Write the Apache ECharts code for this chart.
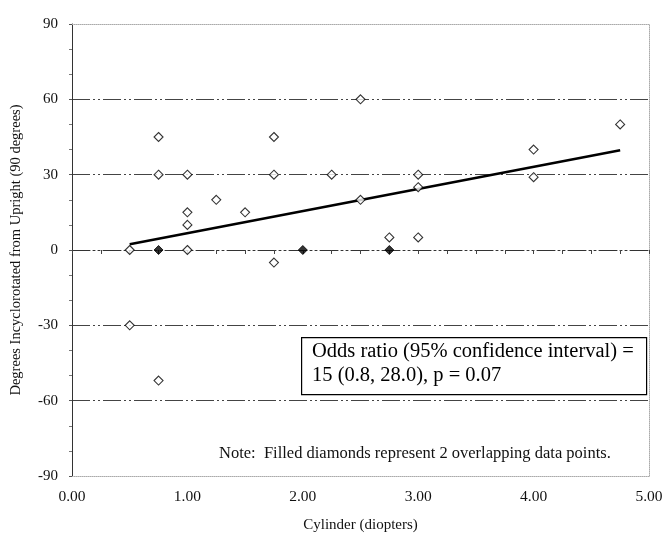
<!DOCTYPE html>
<html>
<head>
<meta charset="utf-8">
<script src="https://cdn.jsdelivr.net/npm/echarts@6/dist/echarts.min.js"></script>
<style>html,body{margin:0;padding:0;background:#fff;}#c{width:665px;height:533px;}</style>
</head>
<body>
<div id="c"></div>
<script>
// Data
var openX = [0.5, 0.5, 0.75, 0.75, 0.75, 1.0, 1.0, 1.0, 1.0, 1.25, 1.5, 1.75, 1.75, 1.75, 2.25, 2.5, 2.5, 2.75, 3.0, 3.0, 3.0, 4.0, 4.0, 4.75];
var openY = [0, -30, 45, 30, -52, 30, 15, 10, 0, 20, 15, 45, 30, -5, 30, 60, 20, 5, 30, 25, 5, 40, 29, 50];
var filledX = [0.75, 2.0, 2.75];
var filledY = [0, 0, 0];
var trendX = [0.5, 4.75];
var trendY = [2.3, 39.7];
var xTicks = [0, 1, 2, 3, 4, 5];
var yTicks = [-90, -60, -30, 0, 30, 60, 90];
var xName = 'Cylinder (diopters)';
var yName = 'Degrees Incyclorotated from Upright (90 degrees)';
var boxLines = ['Odds ratio (95% confidence interval) =', '15 (0.8, 28.0), p = 0.07'];
var noteText = 'Note:  Filled diamonds represent 2 overlapping data points.';

function zip(a, b) { return a.map(function (v, i) { return [v, b[i]]; }); }

var serif = '"Liberation Serif", "DejaVu Serif", serif';
var chart = echarts.init(document.getElementById('c'), null, {renderer: 'canvas'});
var dotted = {color: '#aaa', width: 1, type: [1, 1]};

chart.setOption({
  animation: false,
  backgroundColor: '#fff',
  textStyle: {fontFamily: serif, color: '#111'},
  grid: {left: 72, right: 16, top: 24, bottom: 57, containLabel: false, outerBoundsMode: 'none'},
  xAxis: [
    {
      type: 'value', min: xTicks[0], max: xTicks[xTicks.length - 1], interval: 1,
      position: 'bottom',
      name: xName, nameLocation: 'middle', nameGap: 42,
      nameTextStyle: {fontFamily: serif, fontSize: 15, color: '#111'},
      axisLine: {show: true, onZero: false, lineStyle: dotted},
      axisTick: {show: false},
      splitLine: {show: false},
      axisLabel: {margin: 13, fontFamily: serif, fontSize: 15.5, color: '#111',
        formatter: function (v) { return v.toFixed(2); }}
    },
    {
      type: 'value', min: 0, max: 5, interval: 0.25,
      position: 'bottom',
      axisLine: {show: true, onZero: true, onZeroAxisIndex: 0, lineStyle: {color: '#333', width: 1, type: [18, 3, 2, 3, 2, 3]}},
      axisTick: {show: true, length: 4, inside: false, lineStyle: {color: '#444'}},
      axisLabel: {show: false},
      splitLine: {show: false}
    },
    {
      type: 'value', min: 0, max: 5, position: 'top',
      axisLine: {show: true, onZero: false, lineStyle: dotted},
      axisTick: {show: false}, axisLabel: {show: false}, splitLine: {show: false}
    }
  ],
  yAxis: [
    {
      type: 'value', min: yTicks[0], max: yTicks[yTicks.length - 1], interval: 30,
      position: 'left',
      name: yName, nameLocation: 'middle', nameGap: 48, nameRotate: 90,
      nameTextStyle: {fontFamily: serif, fontSize: 14.5, color: '#111'},
      axisLine: {show: true, onZero: false, lineStyle: {color: '#333', width: 1}},
      axisTick: {show: true, length: 3, inside: false, lineStyle: {color: '#555'}},
      minorTick: {show: true, splitNumber: 3, length: 3, lineStyle: {color: '#777'}},
      axisLabel: {margin: 14, fontFamily: serif, fontSize: 15, color: '#111'},
      splitLine: {show: true, showMinLine: false, showMaxLine: false,
        lineStyle: {color: '#444', width: 1, type: [18, 3, 2, 3, 2, 3]}}
    },
    {
      type: 'value', min: -90, max: 90, position: 'right',
      axisLine: {show: true, onZero: false, lineStyle: dotted},
      axisTick: {show: false}, axisLabel: {show: false}, splitLine: {show: false}
    }
  ],
  series: [
    {
      type: 'line', data: zip(trendX, trendY), xAxisIndex: 0, yAxisIndex: 0,
      showSymbol: false, symbol: 'none',
      lineStyle: {color: '#000', width: 2.6}, z: 3, silent: true
    },
    {
      type: 'scatter', data: zip(openX, openY), xAxisIndex: 0, yAxisIndex: 0,
      symbol: 'diamond', symbolSize: [9, 9],
      itemStyle: {color: '#fff', borderColor: '#000', borderWidth: 1.1}, z: 4
    },
    {
      type: 'scatter', data: zip(filledX, filledY), xAxisIndex: 0, yAxisIndex: 0,
      symbol: 'diamond', symbolSize: [9, 9],
      itemStyle: {color: '#000', borderColor: '#000', borderWidth: 1}, z: 4
    }
  ],
  graphic: [
    {
      type: 'rect', left: 301, top: 337, z: 10,
      shape: {width: 345, height: 57},
      style: {fill: '#fff', stroke: '#000', lineWidth: 1.2}
    },
    {
      type: 'text', left: 312, top: 340, z: 11,
      style: {text: boxLines.join('\n'), font: '20.5px ' + serif, fill: '#000', lineHeight: 24}
    },
    {
      type: 'text', left: 219, top: 445, z: 11,
      style: {text: noteText, font: '16.5px ' + serif, fill: '#111'}
    }
  ]
});
</script>
</body>
</html>
